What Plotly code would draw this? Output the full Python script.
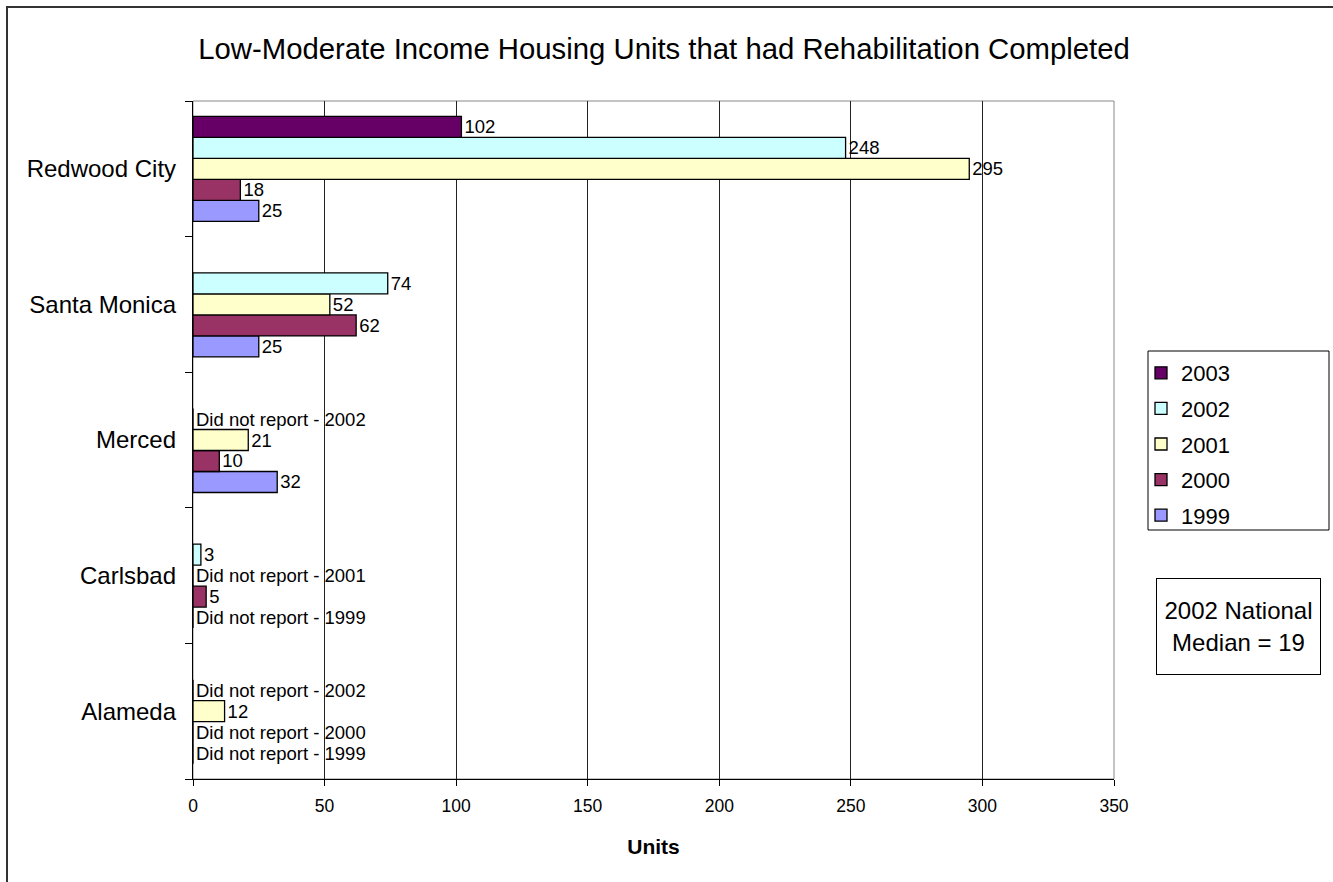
import plotly.graph_objects as go

# ---- data ----
cities = ["Redwood City", "Santa Monica", "Merced", "Carlsbad", "Alameda"]
years = ["1999", "2000", "2001", "2002", "2003"]
units_1999 = [25, 25, 32, None, None]
units_2000 = [18, 62, 10, 5, None]
units_2001 = [295, 52, 21, None, 12]
units_2002 = [248, 74, None, 3, None]
units_2003 = [102, None, None, None, None]
not_reported = {
    "1999": ["Carlsbad", "Alameda"],
    "2000": ["Alameda"],
    "2001": ["Carlsbad"],
    "2002": ["Merced", "Alameda"],
    "2003": [],
}
colors = {"1999": "#9999FF", "2000": "#993366", "2001": "#FFFFCC",
          "2002": "#CCFFFF", "2003": "#660066"}
x_ticks = [0, 50, 100, 150, 200, 250, 300, 350]

series = {"1999": units_1999, "2000": units_2000, "2001": units_2001,
          "2002": units_2002, "2003": units_2003}

FONT = "Liberation Sans, Arial, sans-serif"

fig = go.Figure()
for i, yr in enumerate(years):
    vals = series[yr]
    xs, texts = [], []
    for city, v in zip(cities, vals):
        if v is not None:
            xs.append(v)
            texts.append(str(v))
        elif city in not_reported[yr]:
            xs.append(0)
            texts.append(f"Did not report - {yr}")
        else:
            xs.append(None)
            texts.append("")
    fig.add_trace(go.Bar(
        name=yr, y=cities, x=xs, orientation="h",
        text=texts, textposition="outside", constraintext="none",
        cliponaxis=False,
        textfont=dict(family=FONT, size=18.5, color="black"),
        marker=dict(color=colors[yr], line=dict(color="black", width=1.3)),
        legendgroup=yr, legendrank=100 - i, hoverinfo="x+y+name",
    ))

fig.update_layout(
    width=1333, height=882,
    margin=dict(l=193, r=219, t=101, b=103),
    paper_bgcolor="white", plot_bgcolor="white",
    barmode="group", bargap=0.226, bargroupgap=0,
    font=dict(family=FONT, color="black"),
    title=dict(text="Low-Moderate Income Housing Units that had Rehabilitation Completed",
               font=dict(family=FONT, size=29.3, color="black"),
               x=664 / 1333, xref="container", xanchor="center",
               y=1 - 49 / 882, yref="container", yanchor="middle"),
    xaxis=dict(range=[0, 350], tickvals=x_ticks, showgrid=True,
               gridcolor="#222222", gridwidth=1, showline=True,
               linecolor="black", linewidth=1.3, ticks="outside", ticklen=6,
               tickcolor="black", zeroline=False, ticklabelstandoff=5,
               tickfont=dict(family=FONT, size=17.5, color="black"),
               title=dict(text="<b>Units</b>", standoff=24,
                          font=dict(family=FONT, size=21, color="black"))),
    yaxis=dict(type="category", categoryorder="array",
               categoryarray=cities[::-1], showline=True, linecolor="black",
               linewidth=1.3, ticks="outside", tickson="boundaries",
               ticklen=7, tickcolor="black", showgrid=False,
               ticklabelstandoff=11,
               tickfont=dict(family=FONT, size=24, color="black")),
    legend=dict(traceorder="grouped", tracegroupgap=4,
                x=(1141 - 193) / 921, xanchor="left",
                y=(779 - 352) / 678, yanchor="top",
                borderwidth=0, bgcolor="rgba(0,0,0,0)",
                itemwidth=30,
                font=dict(family=FONT, size=22, color="black")),
    shapes=[
        dict(type="rect", xref="paper", yref="paper", x0=0, x1=1, y0=0, y1=1,
             line=dict(color="#888888", width=1), layer="below"),
        dict(type="rect", xref="paper", yref="paper",
             x0=(7 - 193) / 921, x1=(1450 - 193) / 921,
             y0=(779 - 960) / 678, y1=(779 - 7) / 678,
             line=dict(color="#333333", width=2), layer="below"),
        dict(type="rect", xref="paper", yref="paper",
             x0=(1148 - 193) / 921, x1=(1329 - 193) / 921,
             y0=(779 - 530) / 678, y1=(779 - 351) / 678,
             line=dict(color="black", width=1), fillcolor="white",
             layer="below"),
    ],
    annotations=[dict(
        text="2002 National<br>Median = 19", showarrow=False,
        xref="paper", yref="paper",
        x=(1238.5 - 193) / 921, y=(779 - 626.5) / 678,
        xanchor="center", yanchor="middle",
        width=163, height=95, borderpad=0,
        bordercolor="black", borderwidth=1, bgcolor="white",
        font=dict(family=FONT, size=24, color="black"),
    )],
)

fig.write_html("out.html", config={"displayModeBar": False},
               post_script="document.body.style.margin='0px';")
